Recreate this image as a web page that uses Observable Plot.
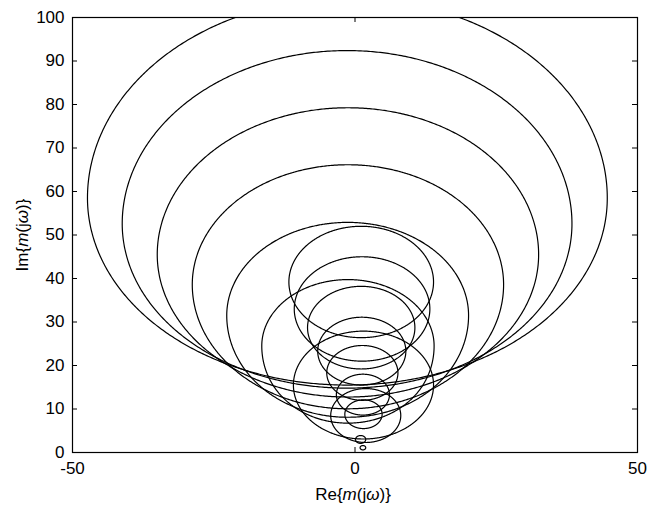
<!DOCTYPE html>
<html><head><meta charset="utf-8">
<script src="https://cdn.jsdelivr.net/npm/d3@7"></script>
<script src="https://cdn.jsdelivr.net/npm/@observablehq/plot@0.6"></script>
<style>body{margin:0;background:#fff} svg{display:block}</style>
</head><body><div id="chart"></div>
<script>
// tick labels
const xTicks = [-50, 0, 50];
const yTicks = [0, 10, 20, 30, 40, 50, 60, 70, 80, 90, 100];

// outer family of loci (wide cone): centre x, centre y, radius, change of radius in the lower half
const outerCx    = [-1.35, -1.4, -1.25, -1.25, -1.3, -1.25, 1.5, 1.9, 1.0];
const outerCy    = [58.5, 52.6, 45.5, 38.6, 31.5, 24.5, 15.5, 8.5, 3.0];
const outerR     = [46.0, 39.8, 33.75, 27.55, 21.4, 15.25, 12.4, 6.2, 0.9];
const outerBulge = [-3.0, -2.0, -1.0, 1.0, 2.0, 2.5, 0, 0, 0];

// inner family of loci (narrow cone)
const innerCx = [1.1, 1.25, 1.1, 1.2, 1.3, 1.4, 1.5, 1.4];
const innerCy = [39.2, 33.0, 28.7, 23.3, 18.3, 13.3, 8.8, 1.1];
const innerR  = [12.8, 12.0, 9.5, 7.8, 6.3, 4.7, 3.3, 0.5];
const innerBulge = [0, 0, 0, 0, 0, 0, 0, 0];

const loci = [];
const add = (cx, cy, r, b, tag) => cx.forEach((c, i) => loci.push({id: tag + i, cx: c, cy: cy[i], r: r[i], b: b[i]}));
add(outerCx, outerCy, outerR, outerBulge, "o");
add(innerCx, innerCy, innerR, innerBulge, "i");

const pts = [];
for (const c of loci) {
  for (let k = 0; k <= 720; k++) {
    const t = k * Math.PI / 360;
    const s = Math.sin(t);
    const rr = c.r + (s < 0 ? c.b * s * s : 0);
    pts.push({id: c.id, x: c.cx + rr * Math.cos(t), y: c.cy + rr * s});
  }
}

const W = 653, H = 512, mT = 17, mB = 60, mL = 72, mR = 16;
const ih = H - mT - mB, iw = W - mL - mR;
const font = "Arial, 'Liberation Sans', sans-serif";

const chart = Plot.plot({
  width: W, height: H,
  marginTop: mT, marginBottom: mB, marginLeft: mL, marginRight: mR,
  style: {fontFamily: font, fontSize: "17px", color: "black", background: "white"},
  x: {domain: [-50, 50]},
  y: {domain: [0, 100]},
  marks: [
    Plot.line(pts, {x: "x", y: "y", z: "id", stroke: "black", strokeWidth: 1.2, clip: true, curve: "linear"}),
    Plot.frame({stroke: "black", strokeWidth: 1.2}),
    Plot.tickX(xTicks, {x: d => d, insetTop: ih - 5, stroke: "black"}),
    Plot.tickX(xTicks, {x: d => d, insetBottom: ih - 5, stroke: "black"}),
    Plot.tickY(yTicks, {y: d => d, insetRight: iw - 5, stroke: "black"}),
    Plot.tickY(yTicks, {y: d => d, insetLeft: iw - 5, stroke: "black"}),
    Plot.axisX(xTicks, {tickSize: 0, tickPadding: 9, label: null, fontSize: 17, tickFormat: d => String(d)}),
    Plot.axisY(yTicks, {tickSize: 0, tickPadding: 8, label: null, fontSize: 17, tickFormat: d => String(d)})
  ]
});

document.getElementById("chart").appendChild(chart);

// axis titles with italic parts
const svg = d3.select(chart);
const xl = svg.append("text")
  .attr("x", 353).attr("y", 500)
  .attr("text-anchor", "middle")
  .style("font-family", font).style("font-size", "17px").attr("fill", "black");
xl.append("tspan").text("Re{");
xl.append("tspan").attr("font-style", "italic").text("m");
xl.append("tspan").text("(j");
xl.append("tspan").attr("font-style", "italic").text("ω");
xl.append("tspan").text(")}");

const yl = svg.append("text")
  .attr("transform", "translate(28,235) rotate(-90)")
  .attr("text-anchor", "middle")
  .style("font-family", font).style("font-size", "17px").attr("fill", "black");
yl.append("tspan").text("Im{");
yl.append("tspan").attr("font-style", "italic").text("m");
yl.append("tspan").text("(j");
yl.append("tspan").attr("font-style", "italic").text("ω");
yl.append("tspan").text(")}");
</script>
</body></html>
